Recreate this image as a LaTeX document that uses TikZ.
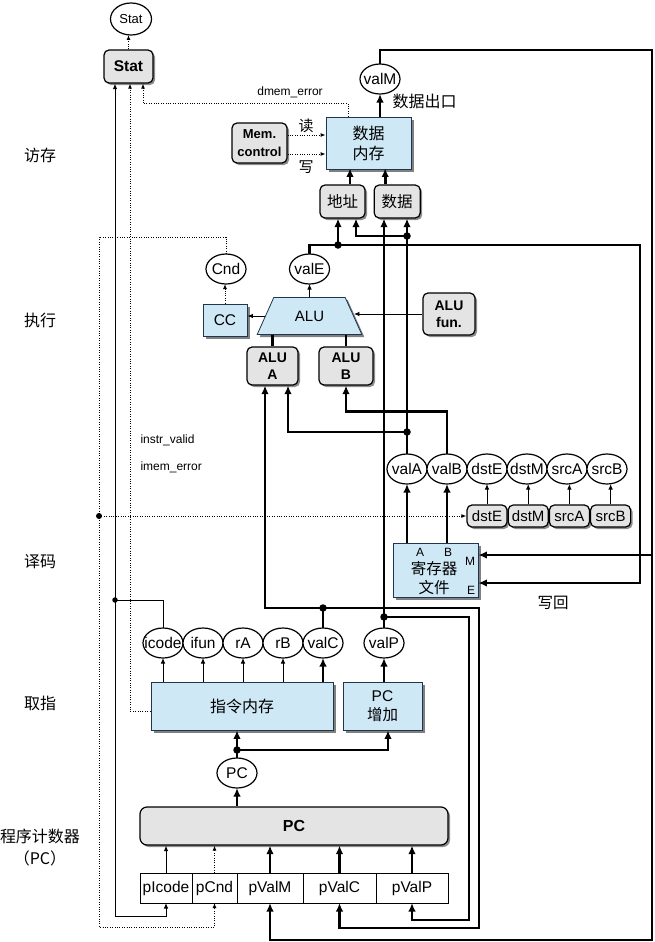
\documentclass[tikz,border=0pt]{standalone}
\usepackage{fontspec}
\setmainfont{Liberation Sans}
\newfontfamily\cjk{Noto Sans CJK SC}
\usepackage{tikz}
\usetikzlibrary{arrows.meta, positioning, shapes.geometric, shadows}

\definecolor{hwfill}{HTML}{CFE8F6}
\definecolor{hwline}{HTML}{20364F}
\definecolor{ctlfill}{HTML}{E4E4E4}

\newcommand\tx[1]{\hbox to 0pt{\hss#1\hss}}

\tikzset{
  wire/.style={line width=0.9pt},
  sig/.style={wire, -{Latex[length=5.5pt,width=4.5pt]}},
  bus/.style={line width=2.9pt},
  busarr/.style={bus, -{Latex[length=8.5pt,width=7.5pt]}},
  ctl/.style={line width=1pt, dash pattern=on 1pt off 1.4pt, -{Latex[length=5pt,width=4pt]}},
  val/.style={ellipse, draw, fill=white, line width=1.2pt, minimum width=40pt, minimum height=30pt,
    inner sep=0pt, outer sep=0pt, font=\fontsize{15.5}{15.5}\selectfont},
  hw/.style={draw=hwline, fill=hwfill, line width=0.8pt, align=center, inner sep=0pt,
    drop shadow={shadow xshift=2.5pt, shadow yshift=-2.5pt, fill=black!50, opacity=1}},
  ctlbox/.style={draw, fill=ctlfill, rounded corners=5pt, line width=1.2pt, align=center, inner sep=0pt,
    drop shadow={shadow xshift=2pt, shadow yshift=-2pt, fill=black!45, opacity=1}},
  preg/.style={draw, fill=white, line width=1pt, minimum height=30pt, inner sep=0pt, outer sep=0pt,
    font=\fontsize{15.5}{15.5}\selectfont},
  stage/.style={font=\cjk\fontsize{16}{22}\selectfont, align=center},
  small/.style={font=\fontsize{12}{12}\selectfont},
  jdot/.style={circle, fill, inner sep=0pt, minimum size=7.5pt},
}

\begin{document}
\begin{tikzpicture}[x=1pt, y=-1pt]
  \useasboundingbox (0,0) rectangle (655,942);

  \node[stage] at (40,155) {访存};
  \node[stage] at (40,320) {执行};
  \node[stage] at (40,562) {译码};
  \node[stage] at (40,703) {取指};
  \node[stage] at (40,847) {程序计数器\\（PC）};

  \node[val, font=\fontsize{13}{13}\selectfont, minimum width=41pt, minimum height=32pt] (statv) at (131,19) {\tx{Stat}};
  \node[ctlbox, minimum width=49pt, minimum height=33pt, font=\bfseries\fontsize{15.5}{16}\selectfont] (stat) at (128.5,66.5) {Stat};
  \node[val] (valM) at (380,79) {\tx{valM}};
  \node[hw, minimum width=85pt, minimum height=52pt, font=\cjk\fontsize{16}{20}\selectfont] (dmem) at (368.5,143) {数据\\内存};
  \node[ctlbox, minimum width=55pt, minimum height=40pt, font=\bfseries\fontsize{13}{18}\selectfont] (memctl) at (259.5,143) {Mem.\\control};
  \node[ctlbox, minimum width=45pt, minimum height=33pt, font=\cjk\fontsize{15.5}{16}\selectfont] (addr) at (342.5,201.5) {地址};
  \node[ctlbox, minimum width=46pt, minimum height=33pt, font=\cjk\fontsize{15.5}{16}\selectfont, right=8pt of addr] (data) {数据};

  \node[hw, trapezium, trapezium angle=57, trapezium stretches=true, minimum width=105pt, minimum height=37pt,
    font=\fontsize{15}{15}\selectfont] (alu) at (309.5,316) {ALU};
  \node[hw, minimum width=44pt, minimum height=32pt, font=\fontsize{15.5}{15.5}\selectfont] (cc) at (225,320) {CC};
  \node[val] (cnd) at (226,269) {\tx{Cnd}};
  \node[val] (valE) at (309.5,269) {\tx{valE}};
  \node[ctlbox, minimum width=52pt, minimum height=42pt, font=\bfseries\fontsize{14}{17}\selectfont] (alufun) at (449,314) {ALU\\fun.};
  \node[ctlbox, minimum width=51pt, minimum height=38pt, font=\bfseries\fontsize{14}{17}\selectfont] (aluA) at (272.5,366) {ALU\\A};
  \node[ctlbox, minimum width=54pt, minimum height=38pt, font=\bfseries\fontsize{14}{17}\selectfont] (aluB) at (346,366) {ALU\\B};

  \node[val] (valA) at (407,469) {\tx{valA}};
  \node[val, right=0pt of valA] (valB) {\tx{valB}};
  \node[val, right=0pt of valB] (dstE) {\tx{dstE}};
  \node[val, right=0pt of dstE] (dstM) {\tx{dstM}};
  \node[val, right=0pt of dstM] (srcA) {\tx{srcA}};
  \node[val, right=0pt of srcA] (srcB) {\tx{srcB}};
  \node[ctlbox, minimum width=40pt, minimum height=22pt, font=\fontsize{15}{15}\selectfont] (rdstE) at (487,516) {dstE};
  \node[ctlbox, minimum width=40pt, minimum height=22pt, font=\fontsize{15}{15}\selectfont, right=0pt of rdstE] (rdstM) {dstM};
  \node[ctlbox, minimum width=40pt, minimum height=22pt, font=\fontsize{15}{15}\selectfont, right=0pt of rdstM] (rsrcA) {srcA};
  \node[ctlbox, minimum width=40pt, minimum height=22pt, font=\fontsize{15}{15}\selectfont, right=0pt of rsrcA] (rsrcB) {srcB};
  \node[hw, minimum width=85pt, minimum height=54pt] (regf) at (435.5,570) {};
  \node[small] at (420,552) {A};
  \node[small] at (448,552) {B};
  \node[small] at (470,561) {M};
  \node[small] at (471,590) {E};
  \node[font=\cjk\fontsize{15.5}{19}\selectfont, align=center] at (434,578) {寄存器\\文件};

  \node[val] (icode) at (163,643) {\tx{icode}};
  \node[val, right=0pt of icode] (ifun) {\tx{ifun}};
  \node[val, right=0pt of ifun] (rA) {\tx{rA}};
  \node[val, right=0pt of rA] (rB) {\tx{rB}};
  \node[val, right=0pt of rB] (valC) {\tx{valC}};
  \node[val] (valP) at (384,643) {\tx{valP}};
  \node[hw, minimum width=182pt, minimum height=48pt, font=\cjk\fontsize{16}{16}\selectfont] (imem) at (242,706) {指令内存};
  \node[hw, minimum width=79pt, minimum height=48pt, font=\fontsize{15.5}{19}\selectfont] (pcinc) at (382.5,706) {PC\\{\cjk 增加}};
  \node[val] (pc) at (237,773) {\tx{PC}};

  \node[ctlbox, minimum width=308pt, minimum height=38pt, rounded corners=7pt, font=\bfseries\fontsize{16}{16}\selectfont] (pcreg) at (294,826) {PC};
  \node[preg, minimum width=52pt] (pIcode) at (166,888) {pIcode};
  \node[preg, minimum width=45pt, right=0pt of pIcode] (pCnd) {pCnd};
  \node[preg, minimum width=66pt, right=0pt of pCnd] (pValM) {pValM};
  \node[preg, minimum width=73pt, right=0pt of pValM] (pValC) {pValC};
  \node[preg, minimum width=72pt, right=0pt of pValC] (pValP) {pValP};

  \node[font=\cjk\fontsize{16}{16}\selectfont, anchor=west] at (389,101) {数据出口};
  \node[small] at (290,92) {dmem\_error};
  \node[font=\cjk\fontsize{15}{15}\selectfont] at (306,126) {读};
  \node[font=\cjk\fontsize{15}{15}\selectfont] at (306,167) {写};
  \node[small, anchor=west] at (137,440) {instr\_valid};
  \node[small, anchor=west] at (137,467) {imem\_error};
  \node[font=\cjk\fontsize{15.5}{16}\selectfont] at (553,603) {写回};

  \coordinate (jE) at (338,245);
  \coordinate (jA1) at (407,236);
  \coordinate (jA2) at (407,432);
  \coordinate (jC) at (323,608);
  \coordinate (jP) at (384,617);
  \coordinate (jPC) at (237,750);
  \coordinate (jI) at (115,600);
  \coordinate (jCnd) at (99,516);
  \coordinate (mport) at (652,555);

  \draw[busarr] (valM |- dmem.north) -- (valM.south);
  \draw[busarr] (valM.north) |- (652,50) |- ([yshift=-37pt]pValM.south) -- (pValM.south);
  \draw[busarr] (mport) -- ([yshift=15pt]regf.east);
  \draw[busarr] ([xshift=7.5pt]addr.north) -- ++(0,-16);
  \draw[busarr] ([xshift=-12pt]data.north) -- ++(0,-16);

  \draw[busarr] (valE.north) |- (640,245) |- ([yshift=-13pt]regf.east);
  \draw[busarr] (jE) -- (jE |- addr.south);
  \draw[busarr] (valA.north) -- (valA.north |- data.south);
  \draw[busarr] (jA1) -| ([xshift=13.5pt]addr.south);
  \draw[busarr] (jA2) -| ([xshift=15.5pt]aluA.south);
  \draw[busarr] (valB.north) |- ([yshift=-26pt]aluB.south) -- (aluB.south);
  \draw[busarr] (valC.north) |- (479,608) |- ([yshift=-25pt]pValC.south) -- (pValC.south);
  \draw[busarr] (jC) -| ([xshift=-7.5pt]aluA.south);
  \draw[busarr] (valP.north) |- (469,617) |- ([yshift=-17pt]pValP.south) -- (pValP.south);
  \draw[busarr] (valP.north) -- (valP.north |- data.south);
  \foreach \j in {jE,jA1,jA2,jC,jP,jPC} \node[jdot] at (\j) {};

  \draw[sig] (alufun.west) -- (alufun.west -| alu.right side);
  \draw[sig] (alu.left side) -- (alu.left side -| cc.east);
  \draw[sig] (alu.north) -- (valE.south);
  \draw[bus] (aluA.north) -- (aluA.north |- alu.south);
  \draw[bus] (aluB.north) -- (aluB.north |- alu.south);
  \draw[ctl] (cc.north) -- (cc.north |- cnd.south);

  \foreach \r in {dstE,dstM,srcA,srcB} \draw[sig] (r\r.north) -- (r\r.north |- \r.south);
  \draw[busarr] (valA |- regf.north) -- (valA.south);
  \draw[busarr] (valB |- regf.north) -- (valB.south);

  \foreach \f in {icode,ifun,rA,rB} \draw[sig] (\f |- imem.north) -- (\f.south);
  \draw[busarr] (valC |- imem.north) -- (valC.south);
  \draw[busarr] (valP |- pcinc.north) -- (valP.south);
  \draw[busarr] (pc |- pcreg.north) -- (pc.south);
  \draw[bus] (pc.north) -- (jPC);
  \draw[busarr] (jPC) -- (jPC |- imem.south);
  \draw[busarr] (jPC) -| ([xshift=5.5pt]pcinc.south);

  \draw[sig] (pIcode.north) -- (pIcode.north |- pcreg.south);
  \draw[ctl] (pCnd.north) -- (pCnd.north |- pcreg.south);
  \foreach \p in {pValM,pValC,pValP} \draw[busarr] (\p.north) -- (\p.north |- pcreg.south);

  \draw[ctl] (stat.north) -- (stat.north |- statv.south);
  \draw[wire] (icode.north) |- (jI);
  \draw[sig] (jI) -- (jI |- stat.south);
  \draw[sig] (jI) |- ([yshift=-13pt]pIcode.south) -- (pIcode.south);
  \node[jdot, minimum size=5.5pt] at (jI) {};
  \draw[ctl] ([yshift=-5pt]imem.west) -| ([xshift=1.5pt]stat.south);
  \draw[ctl] ([xshift=-20.5pt]dmem.north) -- ++(0,-13) -| ([xshift=14.5pt]stat.south);
  \draw[ctl] ([yshift=8pt]memctl.east) -- ([yshift=8pt]memctl.east -| dmem.west);
  \draw[ctl] ([yshift=-11pt]memctl.east) -- ([yshift=-11pt]memctl.east -| dmem.west);
  \draw[ctl] (cnd.north) |- (99,237) |- ([yshift=-24pt]pCnd.south) -- (pCnd.south);
  \draw[ctl] (jCnd) -- (rdstE.west);
  \node[jdot, minimum size=6pt] at (jCnd) {};
\end{tikzpicture}
\end{document}
